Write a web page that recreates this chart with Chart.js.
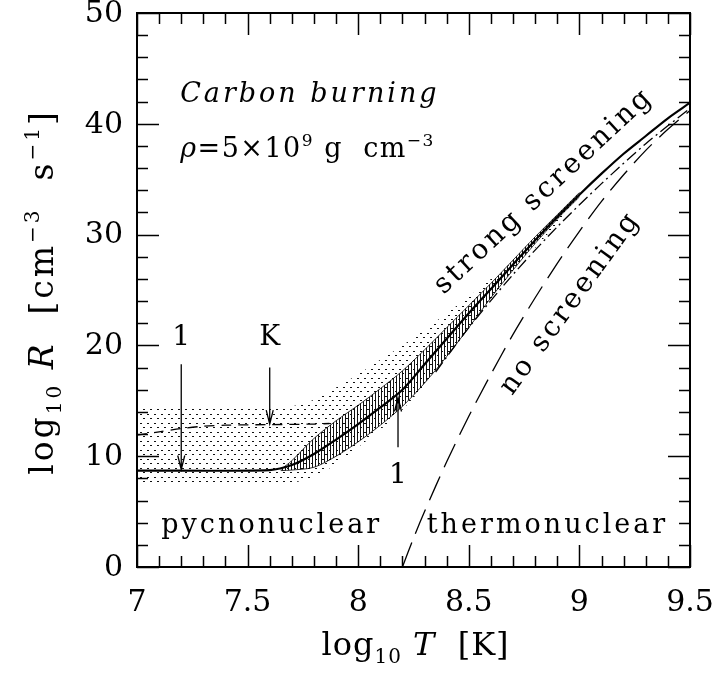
<!DOCTYPE html>
<html lang="en">
<head>
<meta charset="UTF-8">
<title>Carbon burning</title>
<script src="https://cdn.jsdelivr.net/npm/chart.js"></script>
<style>
  body { margin: 0; background: #fff; }
  #chart { display: block; }
</style>
</head>
<body>
<canvas id="chart" width="719" height="675"></canvas>
<script>
// log10 T and log10 R values
const solidT = [7.0, 7.6, 7.7, 7.8, 7.9, 8.0, 8.1, 8.2, 8.3, 8.4, 8.5, 8.6, 8.7, 8.8, 8.9, 9.0, 9.1, 9.2, 9.3, 9.4, 9.5];
const solidR = [8.7, 8.75, 9.2, 10.2, 11.5, 12.9, 14.4, 16.0, 18.3, 20.6, 22.9, 25.1, 27.3, 29.5, 31.6, 33.6, 35.5, 37.3, 38.9, 40.5, 41.9];

const kT = [7.0, 7.1, 7.2, 7.3, 7.4, 7.6, 7.8, 7.87];
const kR = [11.9, 12.2, 12.5, 12.7, 12.8, 12.85, 12.9, 12.95];

const dashDotT = [8.35, 8.5, 8.7, 8.9, 9.1, 9.3, 9.5];
const dashDotR = [17.6, 21.6, 26.4, 30.7, 34.6, 38.2, 41.4];

const noScrT = [8.2, 8.25, 8.3, 8.4, 8.5, 8.6, 8.7, 8.8, 8.9, 9.0, 9.1, 9.2, 9.3, 9.4, 9.5];
const noScrR = [0, 2.6, 5.0, 9.5, 13.6, 17.4, 21.0, 24.3, 27.4, 30.3, 33.0, 35.4, 37.6, 39.5, 41.2];

// dotted uncertainty band
const bandT = [7.0, 7.2, 7.4, 7.6, 7.7, 7.8, 7.9, 8.0, 8.1, 8.2, 8.3, 8.4, 8.5, 8.6, 8.7, 8.8, 8.9, 9.0];
const bandHi = [14.3, 14.3, 14.3, 14.35, 14.5, 15.1, 16.2, 17.4, 18.7, 20.0, 21.4, 22.9, 24.4, 26.0, 27.6, 29.6, 31.7, 33.7];
const bandLo = [7.5, 7.5, 7.5, 7.5, 7.6, 8.1, 9.3, 10.8, 12.4, 14.2, 16.4, 18.8, 21.3, 23.8, 26.4, 28.8, 31.0, 33.2];

// hatched band
const hatchT = [7.65, 7.7, 7.8, 7.9, 8.0, 8.1, 8.2, 8.3, 8.4, 8.5, 8.6, 8.7, 8.8, 8.9, 9.0];
const hatchHi = [8.8, 9.6, 11.6, 13.2, 14.6, 16.1, 17.7, 19.6, 21.6, 23.6, 25.6, 27.7, 29.8, 31.8, 33.8];
const hatchLo = [8.7, 8.75, 9.0, 10.0, 11.3, 12.8, 14.5, 16.6, 19.0, 21.6, 24.3, 26.8, 29.2, 31.4, 33.4];

const xTickLabels = ['7', '7.5', '8', '8.5', '9', '9.5'];
const yTickLabels = ['0', '10', '20', '30', '40', '50'];

// arrows: T, tail R, tip R, label, label R
const arrowT = [7.2, 7.6, 8.18];
const arrowFrom = [18.3, 18.0, 10.8];
const arrowTo = [8.8, 12.9, 15.3];
const arrowText = ['1', 'K', '1'];
const arrowTextR = [20.0, 20.0, 7.6];

const SERIF = '"DejaVu Serif", "Liberation Serif", serif';

const pts = (xs, ys) => xs.map((x, i) => ({ x: x, y: ys[i] }));

function makePattern(w, h, draw) {
    const c = document.createElement('canvas');
    c.width = w; c.height = h;
    const g = c.getContext('2d');
    g.fillStyle = '#111';
    draw(g);
    return g.createPattern(c, 'repeat');
}

const dots = makePattern(7, 9, g => {
    g.fillRect(0, 0, 2, 1);
    g.fillRect(3, 4, 2, 1);
});
const hatch = makePattern(3, 2, g => {
    g.fillRect(0, 0, 1, 2);
});

// draws a run of text pieces: [text, style] with style '', 'i', 'sup', 'sub'
function drawRich(ctx, parts, x, y, size, align) {
    const fontFor = (s) => {
        if (s === 'sup' || s === 'sub') return Math.round(size * 0.62) + 'px ' + SERIF;
        if (s === 'i') return 'italic ' + size + 'px ' + SERIF;
        return size + 'px ' + SERIF;
    };
    let total = 0;
    parts.forEach(p => { ctx.font = fontFor(p[1]); total += ctx.measureText(p[0]).width; });
    let cx = align === 'center' ? x - total / 2 : x;
    ctx.textAlign = 'left';
    ctx.textBaseline = 'alphabetic';
    parts.forEach(p => {
        ctx.font = fontFor(p[1]);
        let dy = 0;
        if (p[1] === 'sup') dy = -size * 0.42;
        if (p[1] === 'sub') dy = size * 0.25;
        ctx.fillText(p[0], cx, y + dy);
        cx += ctx.measureText(p[0]).width;
    });
}

function rotatedText(ctx, text, x, y, deg, size) {
    ctx.save();
    ctx.translate(x, y);
    ctx.rotate(-deg * Math.PI / 180);
    ctx.textBaseline = 'middle';
    ctx.textAlign = 'center';
    ctx.font = size + 'px ' + SERIF;
    ctx.fillText(text, 0, 0);
    ctx.restore();
}

const decor = {
    id: 'decor',
    afterDraw(chart) {
        const ctx = chart.ctx;
        const xs = chart.scales.x, ys = chart.scales.y;
        const a = chart.chartArea;
        ctx.save();
        ctx.strokeStyle = '#000';
        ctx.fillStyle = '#000';

        // frame
        ctx.lineWidth = 2;
        ctx.strokeRect(a.left, a.top, a.right - a.left, a.bottom - a.top);

        // inward ticks on all four sides
        ctx.lineWidth = 1.5;
        ctx.beginPath();
        for (let v = 7; v <= 9.5001; v += 0.1) {
            const major = Math.abs(v * 2 - Math.round(v * 2)) < 1e-6;
            const len = major ? 22 : 11;
            const px = Math.round(xs.getPixelForValue(v)) + 0.5;
            ctx.moveTo(px, a.bottom); ctx.lineTo(px, a.bottom - len);
            ctx.moveTo(px, a.top); ctx.lineTo(px, a.top + len);
        }
        for (let v = 0; v <= 50.001; v += 2) {
            const len = v % 10 === 0 ? 22 : 11;
            const py = Math.round(ys.getPixelForValue(v)) + 0.5;
            ctx.moveTo(a.left, py); ctx.lineTo(a.left + len, py);
            ctx.moveTo(a.right, py); ctx.lineTo(a.right - len, py);
        }
        ctx.stroke();

        // tick labels
        ctx.font = '30px ' + SERIF;
        ctx.textAlign = 'center';
        ctx.textBaseline = 'alphabetic';
        xTickLabels.forEach(t => ctx.fillText(t, xs.getPixelForValue(parseFloat(t)), a.bottom + 44));
        ctx.textAlign = 'right';
        ctx.textBaseline = 'middle';
        yTickLabels.forEach(t => ctx.fillText(t, a.left - 14, ys.getPixelForValue(parseFloat(t)) + 1));

        // axis titles
        ctx.letterSpacing = '1px';
        drawRich(ctx, [['log', ''], ['10', 'sub'], [' ', ''], ['T', 'i'], ['  [K]', '']],
            (a.left + a.right) / 2 + 2, a.bottom + 88, 32, 'center');
        ctx.save();
        ctx.translate(53, (a.top + a.bottom) / 2 + 2);
        ctx.rotate(-Math.PI / 2);
        ctx.letterSpacing = '3px';
        drawRich(ctx, [['log', ''], ['10', 'sub'], [' ', ''], ['R', 'i'], ['  [cm', ''], ['\u22123', 'sup'],
            ['  s', ''], ['\u22121', 'sup'], [']', '']], 0, 0, 33, 'center');
        ctx.restore();
        ctx.letterSpacing = '0px';

        // arrows
        ctx.lineWidth = 1.3;
        arrowT.forEach((t, i) => {
            const px = xs.getPixelForValue(t);
            const y0 = ys.getPixelForValue(arrowFrom[i]);
            const y1 = ys.getPixelForValue(arrowTo[i]);
            const dir = y1 > y0 ? 1 : -1;
            ctx.beginPath();
            ctx.moveTo(px, y0); ctx.lineTo(px, y1);
            ctx.moveTo(px - 3.5, y1 - dir * 14); ctx.lineTo(px, y1); ctx.lineTo(px + 3.5, y1 - dir * 14);
            ctx.stroke();
            ctx.font = '28px ' + SERIF;
            ctx.textAlign = 'center';
            ctx.textBaseline = 'alphabetic';
            ctx.fillText(arrowText[i], px, ys.getPixelForValue(arrowTextR[i]));
        });

        // annotations
        ctx.letterSpacing = '3px';
        drawRich(ctx, [['Carbon burning', 'i']], xs.getPixelForValue(7.195), ys.getPixelForValue(42.0), 27, 'left');
        ctx.letterSpacing = '1.5px';
        drawRich(ctx, [['\u03c1', 'i'], ['=5\u00d710', ''], ['9', 'sup'], [' g  cm', ''], ['\u22123', 'sup']],
            xs.getPixelForValue(7.195), ys.getPixelForValue(37.0), 27, 'left');
        ctx.letterSpacing = '3px';
        drawRich(ctx, [['pycnonuclear', '']], xs.getPixelForValue(7.11), ys.getPixelForValue(3.07), 27, 'left');
        drawRich(ctx, [['thermonuclear', '']], xs.getPixelForValue(8.31), ys.getPixelForValue(3.07), 27, 'left');

        ctx.letterSpacing = '3px';
        rotatedText(ctx, 'strong screening', xs.getPixelForValue(8.84), ys.getPixelForValue(33.9), 43, 28);
        rotatedText(ctx, 'no screening', xs.getPixelForValue(8.96), ys.getPixelForValue(23.8), 54, 28);

        ctx.restore();
    }
};

new Chart(document.getElementById('chart'), {
    type: 'line',
    data: {
        datasets: [
            { data: pts(bandT, bandHi), fill: '+1', backgroundColor: dots, borderWidth: 0, order: 8 },
            { data: pts(bandT, bandLo), fill: false, borderWidth: 0, order: 7 },
            { data: pts(hatchT, hatchHi), fill: '+1', backgroundColor: hatch, borderColor: '#000', borderWidth: 0.8, order: 6 },
            { data: pts(hatchT, hatchLo), fill: false, borderColor: '#000', borderWidth: 0.8, order: 5 },
            { data: pts(solidT, solidR), borderColor: '#000', borderWidth: 2.2, order: 1 },
            { data: pts(kT, kR), borderColor: '#000', borderWidth: 1.3, borderDash: [10, 7], order: 2 },
            { data: pts(dashDotT, dashDotR), borderColor: '#000', borderWidth: 1.3, borderDash: [12, 4, 2, 4], order: 3 },
            { data: pts(noScrT, noScrR), borderColor: '#000', borderWidth: 1.3, borderDash: [26, 10], order: 4 }
        ]
    },
    options: {
        responsive: false,
        devicePixelRatio: 1,
        animation: false,
        layout: { padding: { left: 137, right: 29, top: 13, bottom: 108 } },
        elements: { point: { radius: 0 }, line: { tension: 0.3, fill: false } },
        plugins: { legend: { display: false }, tooltip: { enabled: false } },
        scales: {
            x: {
                type: 'linear', min: 7, max: 9.5,
                ticks: { display: false, stepSize: 0.5 },
                grid: { display: false }, border: { display: false },
                afterFit: (s) => { s.height = 0; }
            },
            y: {
                type: 'linear', min: 0, max: 50,
                ticks: { display: false, stepSize: 10 },
                grid: { display: false }, border: { display: false },
                afterFit: (s) => { s.width = 0; }
            }
        }
    },
    plugins: [decor]
});
</script>
</body>
</html>
